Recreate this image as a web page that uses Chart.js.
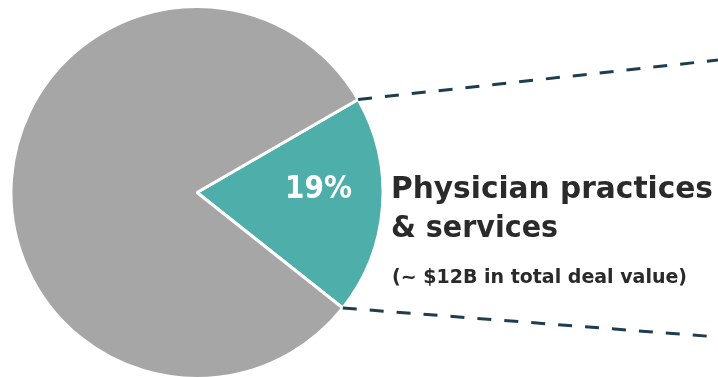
<!DOCTYPE html>
<html>
<head>
<meta charset="utf-8">
<script src="https://cdn.jsdelivr.net/npm/chart.js@4"></script>
<style>
  html, body { margin: 0; padding: 0; background: #fff; overflow: hidden; }
  #wrap { width: 718px; height: 380px; }
</style>
</head>
<body>
<div id="wrap"><canvas id="myChart" width="718" height="380"></canvas></div>
<script>
  // deal value share by segment
  const categories = ['Physician practices & services', 'Other'];
  const shares = [19, 81];
  const calloutLines = ['Physician practices', '& services'];
  const calloutNote = '(~ $12B in total deal value)';

  const TEAL = '#4eaeaa';
  const GREY = '#a6a6a6';
  const INK = '#2a2a2a';
  const DASH = '#1e3e50';
  const FONT = '"DejaVu Sans", sans-serif';

  // dashed lines + labels for the highlighted slice
  const calloutPlugin = {
    id: 'callout',
    afterDatasetsDraw(chart) {
      const ctx = chart.ctx;
      const arc = chart.getDatasetMeta(0).data[0];
      const r = arc.outerRadius;
      const top = { x: arc.x + r * Math.cos(arc.startAngle), y: arc.y + r * Math.sin(arc.startAngle) };
      const bot = { x: arc.x + r * Math.cos(arc.endAngle), y: arc.y + r * Math.sin(arc.endAngle) };

      ctx.save();
      ctx.strokeStyle = DASH;
      ctx.lineWidth = 3;
      ctx.setLineDash([14, 13]);
      ctx.beginPath();
      ctx.moveTo(top.x, top.y);
      ctx.lineTo(chart.width, 60);
      ctx.moveTo(bot.x, bot.y);
      ctx.lineTo(chart.width, 337);
      ctx.stroke();
      ctx.setLineDash([]);

      // percentage inside the slice
      ctx.fillStyle = '#ffffff';
      ctx.textAlign = 'left';
      ctx.textBaseline = 'alphabetic';
      ctx.font = 'bold 32px ' + FONT;
      ctx.fillText(shares[0] + '%', 285, 198, 67);

      // category name and note
      ctx.fillStyle = INK;
      ctx.font = 'bold 31px ' + FONT;
      ctx.fillText(calloutLines[0], 391, 198, 322);
      ctx.fillText(calloutLines[1], 391, 237, 167);
      ctx.font = 'bold 19px ' + FONT;
      ctx.fillText(calloutNote, 392, 283, 296);
      ctx.restore();
    }
  };

  const ctx = document.getElementById('myChart').getContext('2d');
  new Chart(ctx, {
    type: 'pie',
    data: {
      labels: categories,
      datasets: [{
        data: shares,
        backgroundColor: [TEAL, GREY],
        borderColor: '#ffffff',
        borderWidth: 3
      }]
    },
    options: {
      responsive: false,
      animation: false,
      rotation: 60,
      layout: { padding: { left: 9, right: 333, top: 5, bottom: 0 } },
      plugins: {
        legend: { display: false },
        tooltip: { enabled: false }
      }
    },
    plugins: [calloutPlugin]
  });
</script>
</body>
</html>
